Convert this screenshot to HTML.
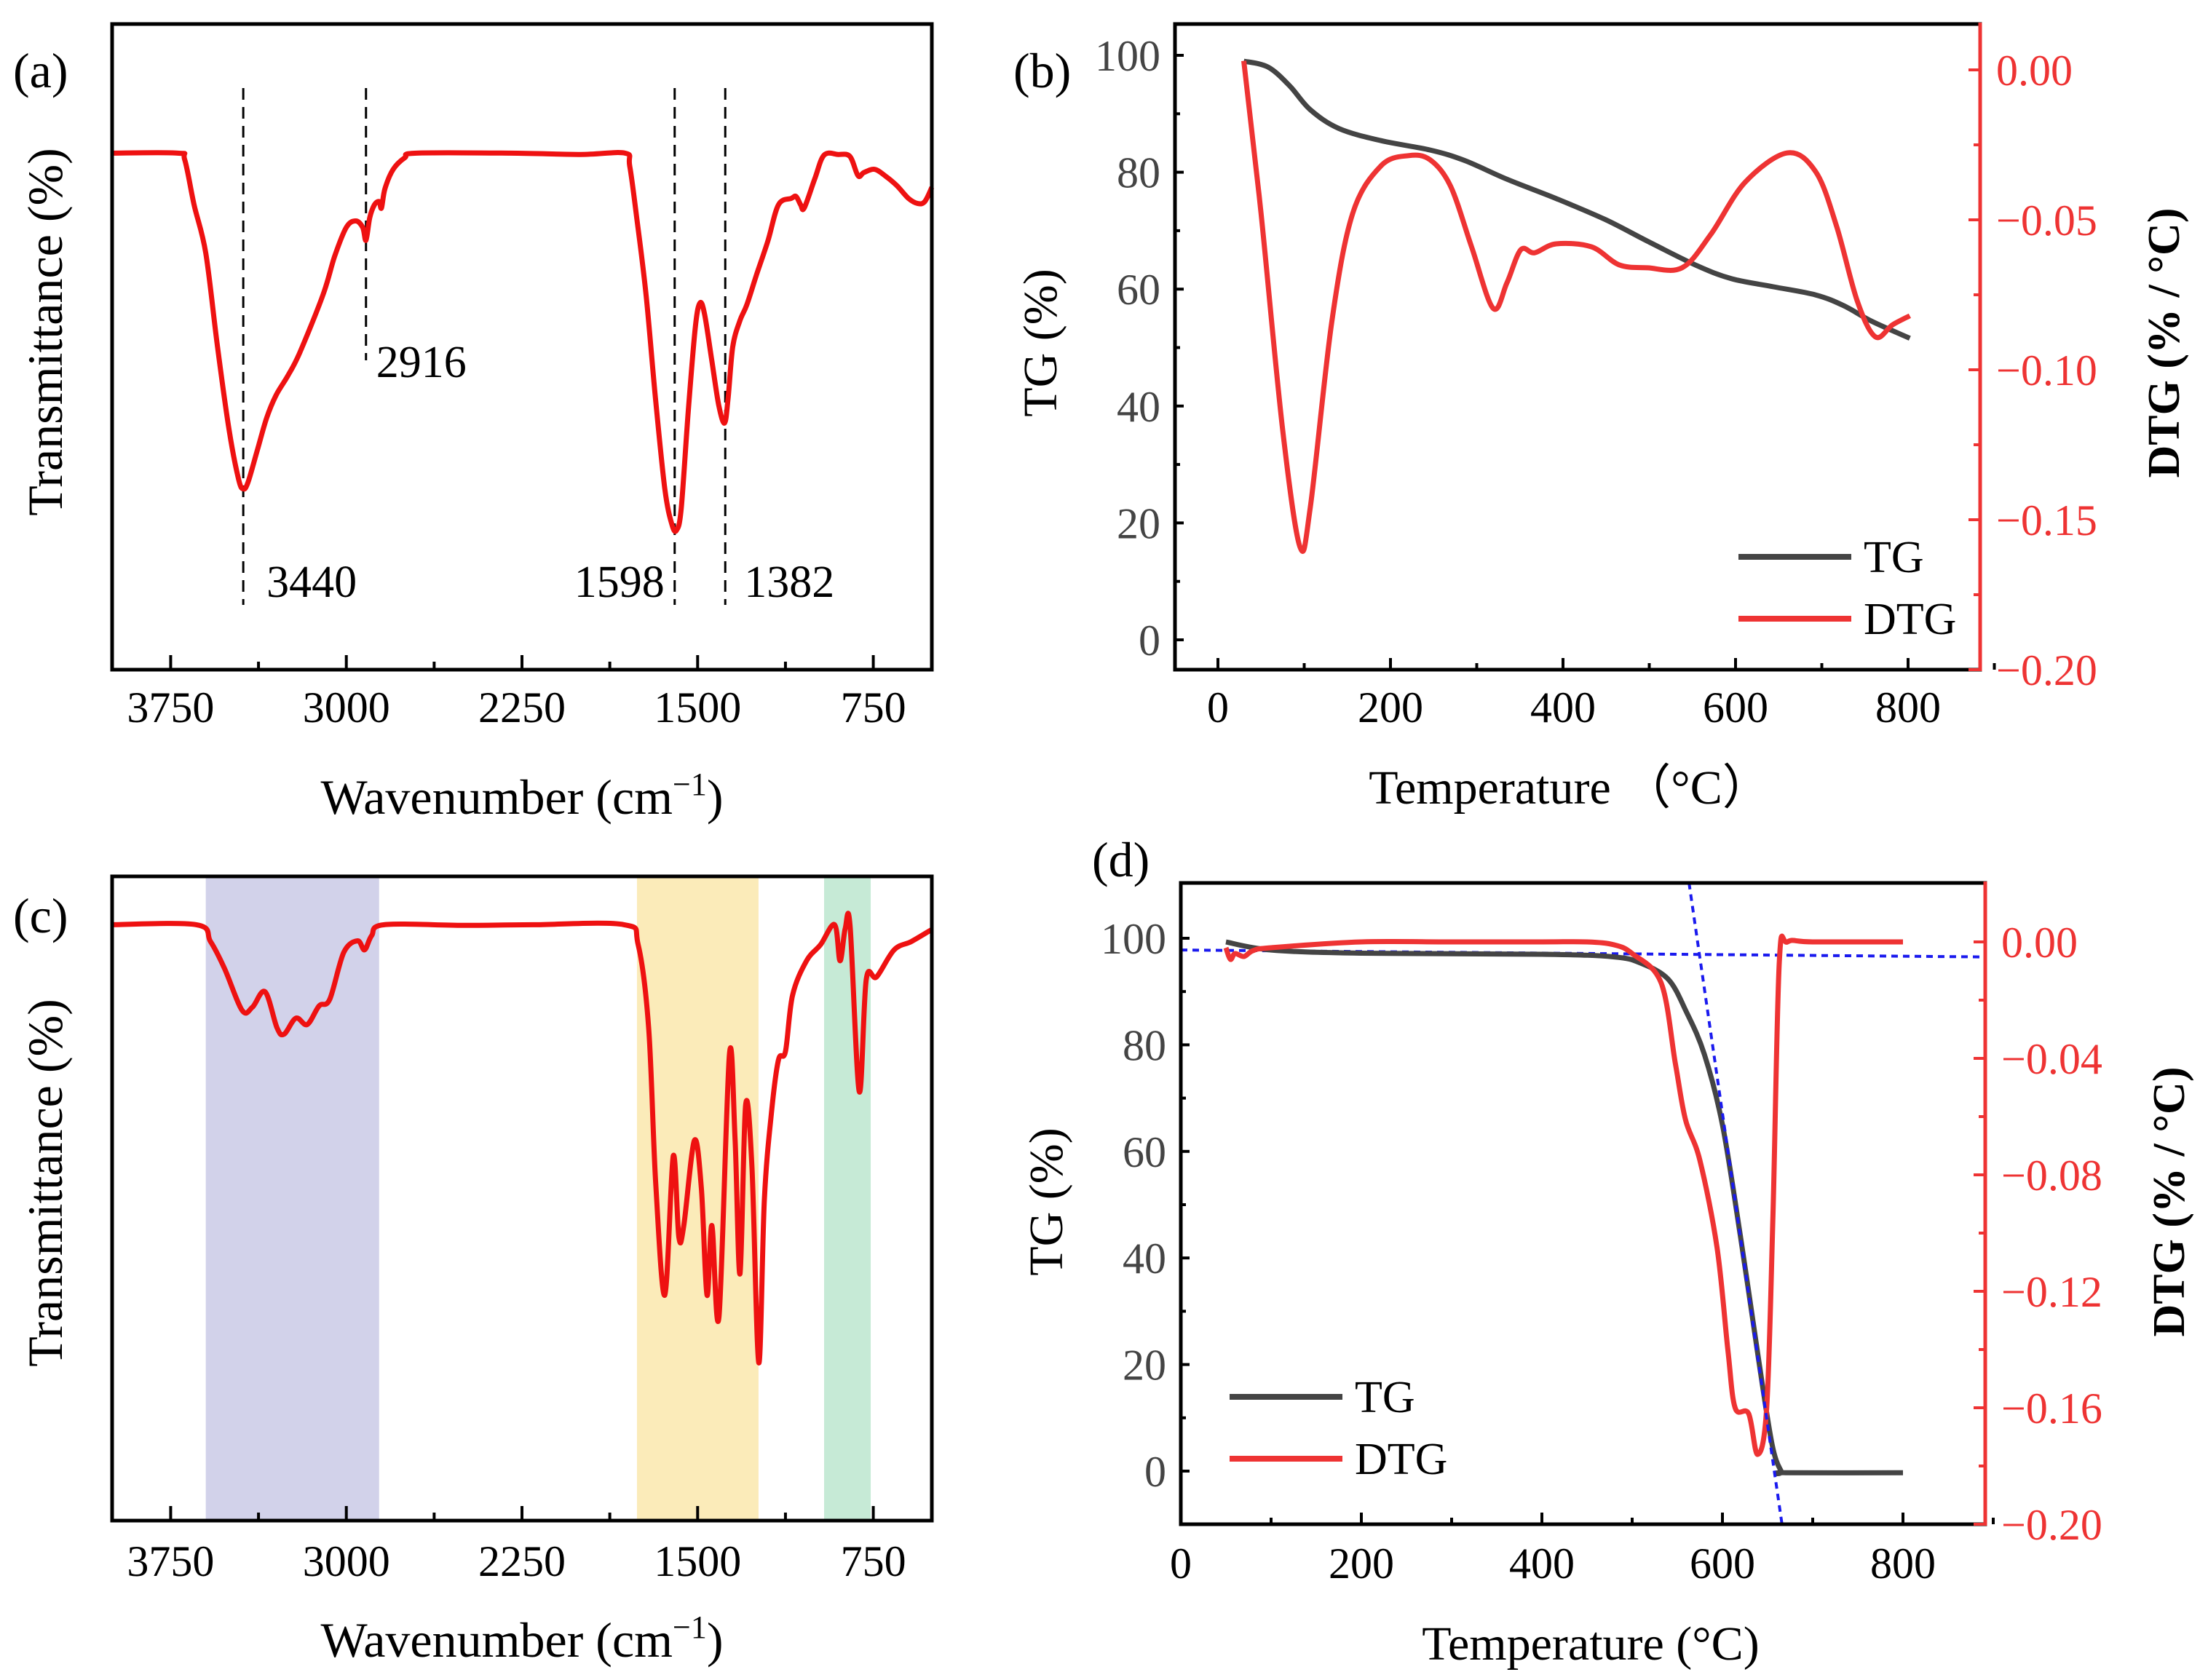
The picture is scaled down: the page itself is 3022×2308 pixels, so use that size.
<!DOCTYPE html>
<html><head><meta charset="utf-8">
<style>
html,body{margin:0;padding:0;background:#fff;}
svg{display:block;}
text{font-family:"Liberation Serif",serif;}
</style></head>
<body>
<svg id="fig" width="3022" height="2308" viewBox="0 0 3022 2308" xmlns="http://www.w3.org/2000/svg">
<rect width="3022" height="2308" fill="#fff"/>
<g id="pa"></g>
<g id="pb"></g>
<g id="pc"></g>
<g id="pd"></g>
</svg>
<script>
// ---------- Panel (a) data ----------
const aWn = [4000,3720,3690,3650,3600,3550,3500,3460,3440,3420,3380,3340,3300,3250,3200,3100,3050,3000,2960,2930,2916,2900,2880,2860,2850,2835,2800,2750,2700,2300,2000,1810,1790,1760,1720,1680,1640,1610,1590,1570,1540,1510,1490,1470,1440,1410,1385,1370,1350,1320,1290,1250,1200,1155,1100,1080,1060,1045,1000,960,900,850,815,790,745,700,650,600,560,530,500];
const aT  = [80,80,79,72,64.5,50,37,29.5,28,29,34,39,42.5,45.5,49,58,64,68.5,69.5,68.5,66.5,70,72,72.5,71.5,74.5,77.5,79.3,80,80,79.8,80,78,70,58,42,28,22.5,21.6,25,40,53,56.8,55,48,41,38.2,42,50,54,56.5,61,66.4,72,73,73.3,72,71.5,76,79.7,79.8,79.5,76.5,77,77.5,76.5,75,73,72.2,72.5,74.7];
const aPeaks = [3440,2916,1598,1382];
const aPeakLabels = ["3440","2916","1598","1382"];
const ftirTicks = [3750,3000,2250,1500,750];
const ftirTickLabels = ["3750","3000","2250","1500","750"];

// ---------- Panel (b) data ----------
const bTgT = [30,58,83,107,140,189,246,286,335,392,449,498,554,595,644,693,725,758,802];
const bTg  = [99,98,94.8,90.7,87.5,85.4,83.8,82,78.8,75.5,71.9,68.2,64.1,61.8,60.4,59,57.2,54.5,51.6];
const bDtgT = [30,50,75,95,107,132,156,189,221,246,270,294,319,335,351,367,392,433,465,498,538,571,611,660,693,717,741,762,782,802];
const bDtg  = [0.003,-0.048,-0.12,-0.159,-0.146,-0.084,-0.048,-0.032,-0.0286,-0.030,-0.039,-0.059,-0.0795,-0.071,-0.060,-0.061,-0.058,-0.059,-0.065,-0.066,-0.066,-0.055,-0.0375,-0.0277,-0.034,-0.052,-0.077,-0.089,-0.085,-0.082];
const bLeftTicks = [0,20,40,60,80,100];
const bRightTicks = [0,-0.05,-0.10,-0.15,-0.20];
const bRightLabels = ["0.00","\u22120.05","\u22120.10","\u22120.15","\u22120.20"];
const tempTicks = [0,200,400,600,800];

// ---------- Panel (c) data ----------
const cWn = [4000,3640,3580,3520,3445,3401,3347,3296,3266,3215,3167,3116,3071,3011,2952,2922,2892,2838,2500,2200,1814,1754,1709,1679,1640,1604,1580,1559,1514,1484,1460,1439,1409,1364,1340,1319,1295,1268,1239,1215,1185,1155,1125,1095,1035,975,915,892,870,849,810,780,736,661,587,503];
const cT  = [92.5,92.5,89.9,85.7,79.2,79.7,82.1,76.5,75.5,78,77,79.9,80.9,88.2,90,88.6,90.8,92.5,92.4,92.5,92.5,89.4,76.5,52.4,35,56.6,44,45.8,59,51.6,35,45.8,31.6,72.4,59,38.3,64.5,54.9,24.5,49.9,63.2,71.5,72.8,81.5,86.9,89.4,92.5,86.9,91.9,92.3,66.6,84,84.4,88.6,89.9,91.7];
const cBandStart = [3600,1759,960];
const cBandEnd   = [2860,1240,761];
const cBandNames = ["band-oh-region","band-fingerprint-region","band-low-wavenumber-region"];
const cBandColors = ["#d2d2ea","#fbebb9","#c6ead6"];

// ---------- Panel (d) data ----------
const dTgT = [50,100,200,400,480,510,540,560,580,600,620,640,655,665,670,800];
const dTg  = [99.3,97.8,97.2,97,96.5,95.3,92.3,86.2,78.2,65,44,21,5,0,-0.3,-0.3];
const dDtgT = [50,55,60,70,80,100,200,300,400,450,480,500,532,548,559,575,594,606,614,629,639,649,656,663,672,700,800];
const dDtg  = [-0.002,-0.006,-0.004,-0.005,-0.003,-0.002,0.000,0.000,0.000,0.000,-0.001,-0.004,-0.014,-0.042,-0.061,-0.075,-0.105,-0.14,-0.16,-0.162,-0.176,-0.16,-0.094,-0.007,0.000,0.000,0.000];
const dBaseT = [0,890];
const dBaseY = [97.8,96.5];
const dTanT = [563,666];
const dTanY = [110.4,-10];
const dLeftTicks = [0,20,40,60,80,100];
const dRightTicks = [0,-0.04,-0.08,-0.12,-0.16,-0.20];
const dRightLabels = ["0.00","\u22120.04","\u22120.08","\u22120.12","\u22120.16","\u22120.20"];

const NS="http://www.w3.org/2000/svg";
function mk(parent,tag,attrs,txt){
  const e=document.createElementNS(NS,tag);
  for(const k in attrs) e.setAttribute(k,attrs[k]);
  if(txt!==undefined) e.textContent=txt;
  parent.appendChild(e); return e;
}
function lin(d0,d1,r0,r1){return v=>r0+(v-d0)/(d1-d0)*(r1-r0);}
function pathD(xs,ys,fx,fy){
  const P=xs.map((v,i)=>[fx(v),fy(ys[i])]);
  let d='M'+P[0][0].toFixed(1)+' '+P[0][1].toFixed(1);
  const t=0.5/3;
  for(let i=0;i<P.length-1;i++){
    const p0=P[Math.max(0,i-1)],p1=P[i],p2=P[i+1],p3=P[Math.min(P.length-1,i+2)];
    const c1=[p1[0]+(p2[0]-p0[0])*t,p1[1]+(p2[1]-p0[1])*t];
    const c2=[p2[0]-(p3[0]-p1[0])*t,p2[1]-(p3[1]-p1[1])*t];
    d+=' C'+c1[0].toFixed(1)+' '+c1[1].toFixed(1)+' '+c2[0].toFixed(1)+' '+c2[1].toFixed(1)+' '+p2[0].toFixed(1)+' '+p2[1].toFixed(1);
  }
  return d;
}

function ftirFrame(g,L,T,R,B,x,tickY,titleY,ytY,lab,labY,id){
  const f=mk(g,'rect',{x:L,y:T,width:R-L,height:B-T,fill:'none',stroke:'#000','stroke-width':5});
  
  
  ftirTicks.forEach((t,i)=>{
    mk(g,'line',{x1:x(t),y1:B,x2:x(t),y2:B-20,stroke:'#000','stroke-width':4});
    const tx=mk(g,'text',{x:x(t),y:tickY+21,'font-size':60,'text-anchor':'middle',fill:'#000'},ftirTickLabels[i]);
    
    
    const m=t-375;
    if(m>500) mk(g,'line',{x1:x(m),y1:B,x2:x(m),y2:B-11,stroke:'#000','stroke-width':4});
  });
  const xt=mk(g,'text',{x:(L+R)/2,y:titleY+22,'font-size':68,'text-anchor':'middle',fill:'#000'});
  
  
  xt.innerHTML='Wavenumber (cm<tspan dy="-26" font-size="44">\u22121</tspan><tspan dy="26">)</tspan>';
  const yt=mk(g,'text',{x:0,y:0,'font-size':68,'text-anchor':'middle',fill:'#000',transform:'translate('+(63+22)+','+ytY+') rotate(-90)'},'Transmittance (%)');
  
  
  const pl=mk(g,'text',{x:18,y:labY+24,'font-size':68,fill:'#000'},lab);
  
  
}

// ---------- Panel A ----------
(function(){
  const g=document.getElementById('pa');
  const L=154,T=33,R=1280,B=920;
  const x=lin(4000,500,L,R), y=lin(0,100,B,T);
  aPeaks.forEach((p,i)=>{
    const yEnd = p===2916 ? 495 : 831;
    const ln=mk(g,'line',{x1:x(p),y1:121,x2:x(p),y2:yEnd,stroke:'#000','stroke-width':3,'stroke-dasharray':'16 10'});
    
    
  });
  const lblPos=[[x(3440)+32,820,'start'],[x(2916)+14,518,'start'],[x(1598)-14,820,'end'],[x(1382)+26,820,'start']];
  aPeakLabels.forEach((t,i)=>{
    const tx=mk(g,'text',{x:lblPos[i][0],y:lblPos[i][1],'font-size':62,'text-anchor':lblPos[i][2],fill:'#000'},t);
    
    
  });
  const c=mk(g,'path',{d:pathD(aWn,aT,x,y),fill:'none',stroke:'#ee1111','stroke-width':7,'stroke-linejoin':'round'});
  
  
  ftirFrame(g,L,T,R,B,x,971,1096,456,'(a)',96,'a');
})();

// ---------- Panel C ----------
(function(){
  const g=document.getElementById('pc');
  const L=154,T=1204,R=1280,B=2089;
  const x=lin(4000,500,L,R), y=lin(0,100,B,T);
  cBandStart.forEach((s,i)=>{
    const r=mk(g,'rect',{x:x(s),y:T,width:x(cBandEnd[i])-x(s),height:B-T,fill:cBandColors[i]});
    
    
  });
  const c=mk(g,'path',{d:pathD(cWn,cT,x,y),fill:'none',stroke:'#ee1111','stroke-width':7,'stroke-linejoin':'round'});
  
  
  ftirFrame(g,L,T,R,B,x,2144,2254,1625,'(c)',1257,'c');
})();

// ===== TG panels =====
function tgPanel(g,id,L,T,R,B,xs,yl,yr,leftTicks,rightTicks,rightLabels,rightMinor,tickY,titleTxt,titleY,titleX,legY1,legY2,legX,lab,labX,labY,ytY){
  const f=mk(g,'rect',{x:L,y:T,width:R-L,height:B-T,fill:'none',stroke:'#000','stroke-width':5});
  
  
  const ra=mk(g,'line',{x1:R,y1:T-2,x2:R,y2:B+2,stroke:'#ee3333','stroke-width':5});
  
  
  tempTicks.forEach(t=>{
    mk(g,'line',{x1:xs(t),y1:B,x2:xs(t),y2:B-16,stroke:'#000','stroke-width':4});
    mk(g,'line',{x1:xs(t+100),y1:B,x2:xs(t+100),y2:B-9,stroke:'#000','stroke-width':4});
    const tx=mk(g,'text',{x:xs(t),y:tickY+21,'font-size':60,'text-anchor':'middle',fill:'#000'},String(t));
    
    
  });
  leftTicks.forEach((t,i)=>{
    mk(g,'line',{x1:L,y1:yl(t),x2:L+12,y2:yl(t),stroke:'#000','stroke-width':4});
    if(i<leftTicks.length-1) mk(g,'line',{x1:L,y1:yl(t+10),x2:L+7,y2:yl(t+10),stroke:'#000','stroke-width':4});
    const tx=mk(g,'text',{x:L-20,y:yl(t)+21,'font-size':60,'text-anchor':'end',fill:'#444'},String(t));
    
    
  });
  rightTicks.forEach((t,i)=>{
    mk(g,'line',{x1:R,y1:yr(t),x2:R-16,y2:yr(t),stroke:'#ee3333','stroke-width':4});
    if(i<rightTicks.length-1) mk(g,'line',{x1:R,y1:yr(t-rightMinor),x2:R-9,y2:yr(t-rightMinor),stroke:'#ee3333','stroke-width':4});
    const tx=mk(g,'text',{x:R+22,y:yr(t)+21,'font-size':60,'text-anchor':'start',fill:'#ee3333'},rightLabels[i]);
    
    
  });
  const xt=mk(g,'text',{x:titleX,y:titleY+22,'font-size':66,'text-anchor':'middle',fill:'#000'},titleTxt);
  
  
  const yt=mk(g,'text',{x:0,y:0,'font-size':66,'text-anchor':'middle',fill:'#000',transform:'translate('+(L-163)+','+ytY+') rotate(-90)'},'TG (%)');
  
  
  const rt=mk(g,'text',{x:0,y:0,'font-size':62,'font-weight':'bold','text-anchor':'middle',fill:'#000',transform:'translate('+(R+273)+','+ytY+') rotate(-90)'},'DTG (% / \u00b0C)');
  
  
  const l1=mk(g,'line',{x1:legX,y1:legY1,x2:legX+155,y2:legY1,stroke:'#444','stroke-width':8});
  
  
  const t1=mk(g,'text',{x:legX+172,y:legY1+21,'font-size':62,fill:'#000'},'TG');
  
  
  const l2=mk(g,'line',{x1:legX,y1:legY2,x2:legX+155,y2:legY2,stroke:'#ee3333','stroke-width':8});
  
  
  const t2=mk(g,'text',{x:legX+172,y:legY2+21,'font-size':62,fill:'#000'},'DTG');
  
  
  const pl=mk(g,'text',{x:labX,y:labY+24,'font-size':68,fill:'#000'},lab);
  
  
}

// ---------- Panel B ----------
(function(){
  const g=document.getElementById('pb');
  const L=1614,T=33,R=2720,B=920;
  const xs=lin(0,800,1673,2621), yl=lin(0,100,879,76), yr=lin(0,-0.2,96,920);
  const tg=mk(g,'path',{d:pathD(bTgT,bTg,xs,yl),fill:'none',stroke:'#444','stroke-width':7,'stroke-linejoin':'round'});
  
  
  const dt=mk(g,'path',{d:pathD(bDtgT,bDtg,xs,yr),fill:'none',stroke:'#ee3333','stroke-width':7,'stroke-linejoin':'round'});
  
  
  tgPanel(g,'b',L,T,R,B,xs,yl,yr,bLeftTicks,bRightTicks,bRightLabels,0.025,971,'Temperature \uff08\u00b0C\uff09',1082,2156,765,850,2388,'(b)',1392,96,471);
})();

// ---------- Panel D ----------
(function(){
  const g=document.getElementById('pd');
  const L=1622,T=1213,R=2727,B=2094;
  const xs=lin(0,800,1622,2614), yl=lin(0,100,2021,1289), yr=lin(0,-0.2,1294,2094);
  const base=mk(g,'line',{x1:xs(dBaseT[0]),y1:yl(dBaseY[0]),x2:xs(dBaseT[1]),y2:yl(dBaseY[1]),stroke:'#1a1aee','stroke-width':4,'stroke-dasharray':'9 7'});
  
  
  const tg=mk(g,'path',{d:pathD(dTgT,dTg,xs,yl),fill:'none',stroke:'#444','stroke-width':7,'stroke-linejoin':'round'});
  
  
  const dt=mk(g,'path',{d:pathD(dDtgT,dDtg,xs,yr),fill:'none',stroke:'#ee3333','stroke-width':7,'stroke-linejoin':'round'});
  
  
  const tan=mk(g,'line',{x1:xs(dTanT[0]),y1:yl(dTanY[0]),x2:xs(dTanT[1]),y2:yl(dTanY[1]),stroke:'#1a1aee','stroke-width':4,'stroke-dasharray':'9 7'});
  
  
  tgPanel(g,'d',L,T,R,B,xs,yl,yr,dLeftTicks,dRightTicks,dRightLabels,0.02,2147,'Temperature (\u00b0C)',2258,2185,1919,2004,1689,'(d)',1500,1180,1651);
})();
</script>
</body></html>
